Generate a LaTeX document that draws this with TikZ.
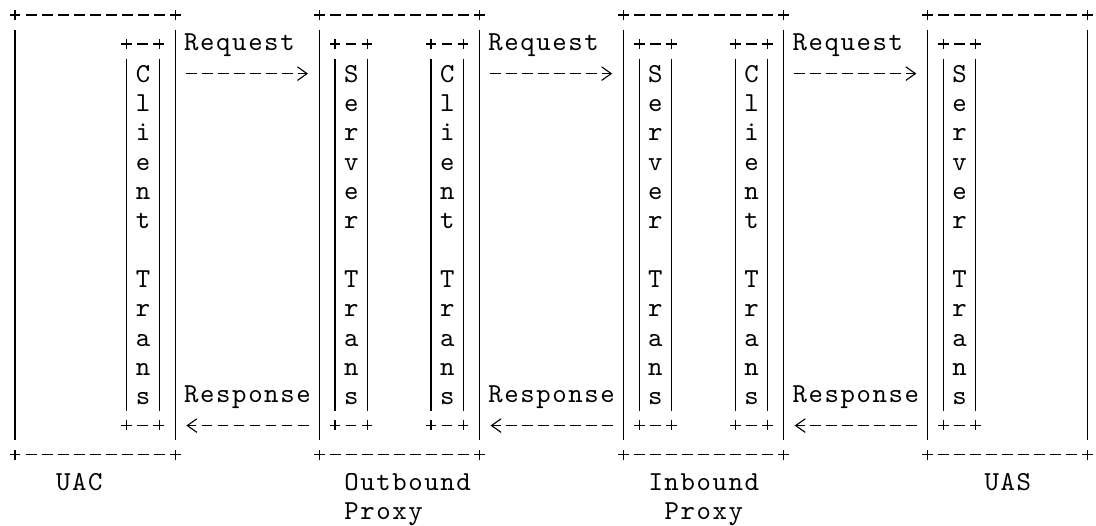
\documentclass[tikz,border=0pt]{standalone}
\usepackage{fontspec}
\newfontfamily\monoascii[LetterSpace=5.86]{lmmono10-regular.otf}
\usetikzlibrary{arrows.meta,calc}

\begin{document}
\begin{tikzpicture}[x=0.4cm,y=-0.7328cm,
    texto/.style={inner sep=0pt,font=\monoascii\fontsize{19.5pt}{20.85pt}\selectfont},
    caja/.style={inner sep=0pt,outer sep=0pt,minimum width=4cm,minimum height=10.992cm},
    trans/.style={texto,align=center,minimum width=0.8cm,minimum height=9.526cm},
    hborde/.style={line width=0.8pt,dash pattern=on 0.272cm off 0.128cm,shorten <=-0.136cm,shorten >=-0.136cm},
    vborde/.style={line width=0.8pt,shorten <=-0.125cm,shorten >=-0.125cm,
        dash pattern=on 0.249cm off 0.242cm on #1 off 0.242cm on 0.249cm},
    flecha/.style={line width=0.8pt,dash pattern=on 0.268cm off 0.132cm,shorten <=0.268cm,shorten >=0.28cm,
        -{Straight Barb[length=0.24cm,width=0.34cm]}}]
    % fondo
    \fill[white] (-0.44,-0.01) rectangle (68.02,17.86);

    % cajas
    \foreach \nombre/\x in {uac/5.5,outbound/24.5,inbound/43.5,uas/62.5}
        \node[caja] (\nombre) at (\x,8) {};
    % transacciones cliente y servidor
    \foreach \nombre/\x in {uac ct/8.5,outbound ct/27.5,inbound ct/46.5}
        \node[trans] (\nombre) at (\x,8) {C\\l\\i\\e\\n\\t\\~\\T\\r\\a\\n\\s};
    \foreach \nombre/\x in {outbound st/21.5,inbound st/40.5,uas st/59.5}
        \node[trans] (\nombre) at (\x,8) {S\\e\\r\\v\\e\\r\\~\\T\\r\\a\\n\\s};

    % bordes
    \foreach \b/\alto in {uac/10.259cm,outbound/10.259cm,inbound/10.259cm,uas/10.259cm,
        uac ct/8.794cm,outbound ct/8.794cm,inbound ct/8.794cm,outbound st/8.794cm,inbound st/8.794cm,uas st/8.794cm}{
        \draw[hborde] (\b.north west) -- (\b.north east);
        \draw[hborde] (\b.south west) -- (\b.south east);
        \draw[vborde=\alto] (\b.north west) -- (\b.south west);
        \draw[vborde=\alto] (\b.north east) -- (\b.south east);
    }

    % peticiones y respuestas
    \foreach \a/\b in {uac/outbound,outbound/inbound,inbound/uas}{
        \draw[flecha] ($(\a.north east)+(0,2)$) -- ($(\b.north west)+(0,2)$);
        \draw[flecha] ($(\b.south west)+(0,-1)$) -- ($(\a.south east)+(0,-1)$);
        \node[texto,anchor=base west] (\a req) at ($(\a.north east)+(0.55,1.2)$) {Request};
        \node[texto,anchor=base west] (\a resp) at ($(\a.south east)+(0.55,-1.8)$) {Response};
    }

    % nombres
    \node[texto,anchor=base west] (uac name) at (3.05,16.7) {UAC};
    \node[texto,anchor=base west] (outbound name) at (21.05,16.7) {Outbound};
    \node[texto,anchor=base west] (outbound proxy) at (21.05,17.7) {Proxy};
    \node[texto,anchor=base west] (inbound name) at (40.05,16.7) {Inbound};
    \node[texto,anchor=base west] (inbound proxy) at (41.05,17.7) {Proxy};
    \node[texto,anchor=base west] (uas name) at (61.05,16.7) {UAS};
\end{tikzpicture}
\end{document}
